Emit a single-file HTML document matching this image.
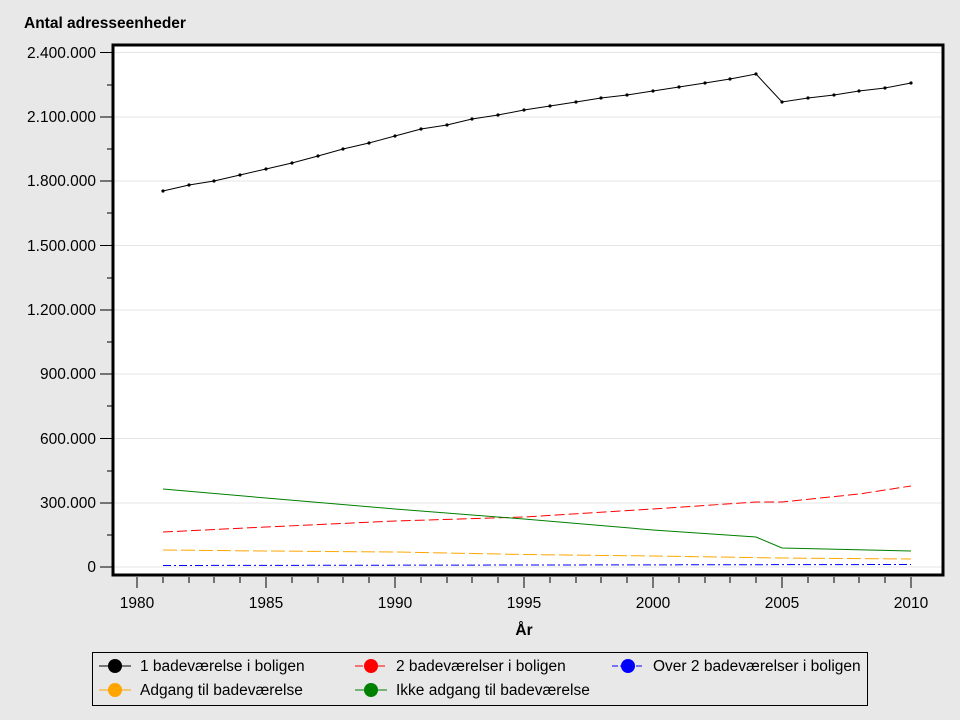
<!DOCTYPE html><html><head><style>body{margin:0;background:#e8e8e8}svg{display:block;font-family:"Liberation Sans",sans-serif}</style></head><body>
<svg width="960" height="720" xmlns="http://www.w3.org/2000/svg">
<rect width="960" height="720" fill="#e8e8e8"/>
<text x="24" y="28" font-size="15.5" font-weight="bold">Antal adresseenheder</text>
<rect x="113" y="45" width="830" height="530" fill="#fff"/>
<g stroke="#e6e6e6" stroke-width="1">
<line x1="114" x2="942" y1="52.5" y2="52.5"/><line x1="114" x2="942" y1="117" y2="117"/><line x1="114" x2="942" y1="181" y2="181"/><line x1="114" x2="942" y1="245.5" y2="245.5"/><line x1="114" x2="942" y1="310" y2="310"/><line x1="114" x2="942" y1="374" y2="374"/><line x1="114" x2="942" y1="438.5" y2="438.5"/><line x1="114" x2="942" y1="503" y2="503"/><line x1="114" x2="942" y1="567" y2="567"/>
</g>
<g stroke="#000" stroke-width="1">
<line x1="100" x2="112" y1="52.5" y2="52.5"/><line x1="107" x2="112" y1="85" y2="85"/><line x1="100" x2="112" y1="117" y2="117"/><line x1="107" x2="112" y1="149" y2="149"/><line x1="100" x2="112" y1="181" y2="181"/><line x1="107" x2="112" y1="213" y2="213"/><line x1="100" x2="112" y1="245.5" y2="245.5"/><line x1="107" x2="112" y1="278" y2="278"/><line x1="100" x2="112" y1="310" y2="310"/><line x1="107" x2="112" y1="342" y2="342"/><line x1="100" x2="112" y1="374" y2="374"/><line x1="107" x2="112" y1="406" y2="406"/><line x1="100" x2="112" y1="438.5" y2="438.5"/><line x1="107" x2="112" y1="471" y2="471"/><line x1="100" x2="112" y1="503" y2="503"/><line x1="107" x2="112" y1="535" y2="535"/><line x1="100" x2="112" y1="567" y2="567"/>
</g>
<g font-size="15.5" text-anchor="end">
<text x="96" y="58">2.400.000</text><text x="96" y="122">2.100.000</text><text x="96" y="186">1.800.000</text><text x="96" y="251">1.500.000</text><text x="96" y="315">1.200.000</text><text x="96" y="379">900.000</text><text x="96" y="444">600.000</text><text x="96" y="508">300.000</text><text x="96" y="572">0</text>
</g>
<g stroke="#000" stroke-width="1">
<line x1="137" x2="137" y1="577" y2="588"/><line x1="163" x2="163" y1="577" y2="583"/><line x1="189" x2="189" y1="577" y2="583"/><line x1="214" x2="214" y1="577" y2="583"/><line x1="240" x2="240" y1="577" y2="583"/><line x1="266" x2="266" y1="577" y2="588"/><line x1="292" x2="292" y1="577" y2="583"/><line x1="318" x2="318" y1="577" y2="583"/><line x1="343" x2="343" y1="577" y2="583"/><line x1="369" x2="369" y1="577" y2="583"/><line x1="395" x2="395" y1="577" y2="588"/><line x1="421" x2="421" y1="577" y2="583"/><line x1="447" x2="447" y1="577" y2="583"/><line x1="472" x2="472" y1="577" y2="583"/><line x1="498" x2="498" y1="577" y2="583"/><line x1="524" x2="524" y1="577" y2="588"/><line x1="550" x2="550" y1="577" y2="583"/><line x1="576" x2="576" y1="577" y2="583"/><line x1="601" x2="601" y1="577" y2="583"/><line x1="627" x2="627" y1="577" y2="583"/><line x1="653" x2="653" y1="577" y2="588"/><line x1="679" x2="679" y1="577" y2="583"/><line x1="705" x2="705" y1="577" y2="583"/><line x1="730" x2="730" y1="577" y2="583"/><line x1="756" x2="756" y1="577" y2="583"/><line x1="782" x2="782" y1="577" y2="588"/><line x1="808" x2="808" y1="577" y2="583"/><line x1="834" x2="834" y1="577" y2="583"/><line x1="859" x2="859" y1="577" y2="583"/><line x1="885" x2="885" y1="577" y2="583"/><line x1="911" x2="911" y1="577" y2="588"/>
</g>
<g font-size="15.5" text-anchor="middle">
<text x="137" y="608">1980</text><text x="266" y="608">1985</text><text x="395" y="608">1990</text><text x="524" y="608">1995</text><text x="653" y="608">2000</text><text x="782" y="608">2005</text><text x="911" y="608">2010</text>
</g>
<text x="524" y="635" font-size="15.5" font-weight="bold" text-anchor="middle">År</text>
<g fill="none" stroke-width="1">
<polyline stroke="#0000ff" stroke-dasharray="8,3,2,3" points="163,565.5 911,564.5" marker-mid="url(#mb)"/>
<polyline stroke="#ffa500" stroke-dasharray="14,4" points="163,550 266,551 395,552 524,554.5 653,556 782,558 911,559"/>
<polyline stroke="#ff0000" stroke-dasharray="10,4" points="163,532 266,527 395,521 524,517 653,509 756,502 782,502 859,494 911,486"/>
<polyline stroke="#008000" points="163,489 266,498 395,509 524,519 653,530 756,537 782,548 911,551"/>
<polyline stroke="#000" points="163,191 189,185 214,181 240,175 266,169 292,163 318,156 343,149 369,143 395,136 421,129 447,125 472,119 498,115 524,110 550,106 576,102 601,98 627,95 653,91 679,87 705,83 730,79 756,74 782,102 808,98 834,95 859,91 885,88 911,83"/>
</g>
<g>
<g fill="#000"><circle cx="163" cy="191" r="1.6"/><circle cx="189" cy="185" r="1.6"/><circle cx="214" cy="181" r="1.6"/><circle cx="240" cy="175" r="1.6"/><circle cx="266" cy="169" r="1.6"/><circle cx="292" cy="163" r="1.6"/><circle cx="318" cy="156" r="1.6"/><circle cx="343" cy="149" r="1.6"/><circle cx="369" cy="143" r="1.6"/><circle cx="395" cy="136" r="1.6"/><circle cx="421" cy="129" r="1.6"/><circle cx="447" cy="125" r="1.6"/><circle cx="472" cy="119" r="1.6"/><circle cx="498" cy="115" r="1.6"/><circle cx="524" cy="110" r="1.6"/><circle cx="550" cy="106" r="1.6"/><circle cx="576" cy="102" r="1.6"/><circle cx="601" cy="98" r="1.6"/><circle cx="627" cy="95" r="1.6"/><circle cx="653" cy="91" r="1.6"/><circle cx="679" cy="87" r="1.6"/><circle cx="705" cy="83" r="1.6"/><circle cx="730" cy="79" r="1.6"/><circle cx="756" cy="74" r="1.6"/><circle cx="782" cy="102" r="1.6"/><circle cx="808" cy="98" r="1.6"/><circle cx="834" cy="95" r="1.6"/><circle cx="859" cy="91" r="1.6"/><circle cx="885" cy="88" r="1.6"/><circle cx="911" cy="83" r="1.6"/></g>
</g>
<rect x="113" y="45" width="830" height="530" fill="none" stroke="#000" stroke-width="3"/>
<rect x="92.5" y="652.5" width="775" height="53" fill="none" stroke="#000" stroke-width="1"/>
<g font-size="15.5">
<line x1="99" x2="131" y1="666" y2="666" stroke="#000"/><circle cx="115" cy="666" r="7" fill="#000"/><text x="140" y="671">1 badeværelse i boligen</text>
<line x1="355" x2="387" y1="666" y2="666" stroke="#f00" stroke-dasharray="8,3"/><circle cx="371" cy="666" r="7" fill="#f00"/><text x="396" y="671">2 badeværelser i boligen</text>
<line x1="612" x2="644" y1="666" y2="666" stroke="#00f" stroke-dasharray="6,2,2,2"/><circle cx="628" cy="666" r="7" fill="#00f"/><text x="653" y="671">Over 2 badeværelser i boligen</text>
<line x1="99" x2="131" y1="690" y2="690" stroke="#ffa500"/><circle cx="115" cy="690" r="7" fill="#ffa500"/><text x="140" y="695">Adgang til badeværelse</text>
<line x1="355" x2="387" y1="690" y2="690" stroke="#008000"/><circle cx="371" cy="690" r="7" fill="#008000"/><text x="396" y="695">Ikke adgang til badeværelse</text>
</g>
</svg></body></html>
